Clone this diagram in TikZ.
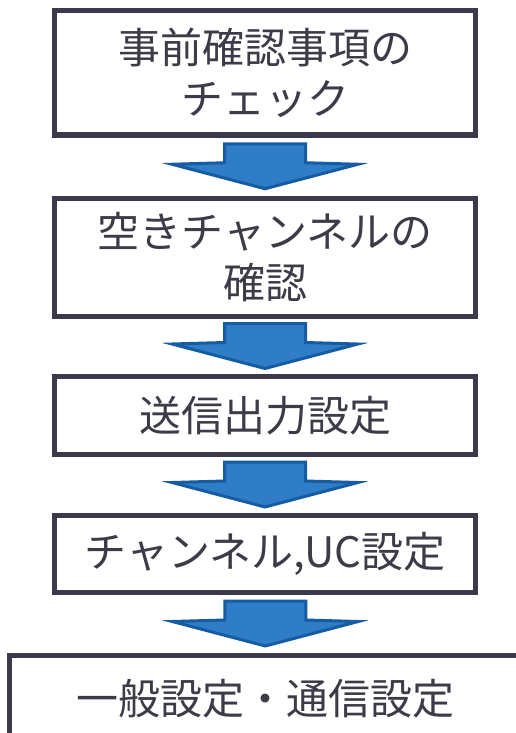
\documentclass[tikz,border=0pt]{standalone}
\usepackage{fontspec}
\newfontfamily\jp{Noto Sans CJK JP}
\usetikzlibrary{calc}
\definecolor{boxline}{RGB}{58,58,74}
\definecolor{txt}{RGB}{60,60,72}
\definecolor{arrfill}{RGB}{46,125,198}
\definecolor{arrline}{RGB}{22,92,162}
\tikzset{
  stepbox/.style={draw=boxline, line width=5pt, fill=white, align=center, inner sep=0pt,
    text=txt, font=\jp\fontsize{42}{51}\selectfont},
  blockarrow/.style={draw=arrline, fill=arrfill, line width=3pt, line join=miter}
}
\begin{document}
\begin{tikzpicture}[x=1pt,y=-1pt]
\clip (0,0) rectangle (516,733);
\fill[white] (0,0) rectangle (516,733);
\node[stepbox, minimum width=421pt, minimum height=124.5pt] (b1) at (265,72.75) {事前確認事項の\\チェック};
\node[stepbox, minimum width=421pt, minimum height=118pt] (b2) at (265,257.5) {空きチャンネルの\\確認};
\node[stepbox, minimum width=421pt, minimum height=78pt] (b3) at (265,415.5) {送信出力設定};
\node[stepbox, minimum width=421pt, minimum height=77pt] (b4) at (265,554) {チャンネル,UC設定};
\node[stepbox, minimum width=512pt, minimum height=86pt] (b5) at (265.5,698.5) {一般設定・通信設定};
\foreach \a/\b in {b1/b2,b2/b3,b3/b4,b4/b5}{
  \coordinate (m) at ($(\a.south)!0.5!(\b.north)$);
  \draw[blockarrow, shift={(m)}] (-40.5,-23) -- (40.5,-23) -- (40.5,-4) -- (93,-2.5) -- (0,22) -- (-93,-2.5) -- (-40.5,-4) -- cycle;
}
\end{tikzpicture}
\end{document}
